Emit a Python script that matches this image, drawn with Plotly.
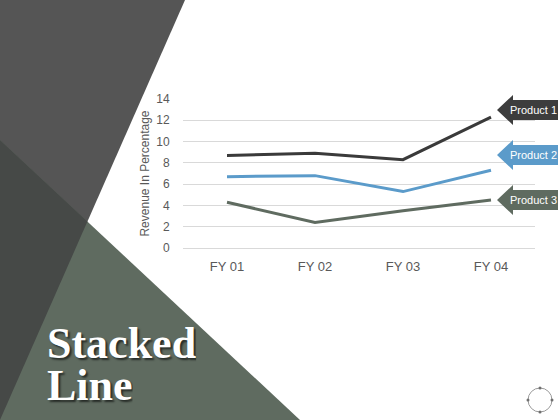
import plotly.graph_objects as go

W, H = 560, 420

categories = ["FY 01", "FY 02", "FY 03", "FY 04"]
product_1 = [8.7, 8.9, 8.3, 12.3]
product_2 = [6.7, 6.8, 5.3, 7.3]
product_3 = [4.3, 2.4, 3.5, 4.5]
names = ["Product 1", "Product 2", "Product 3"]
colors = ["#3a3a3a", "#5b9bca", "#5f6b60"]
y_ticks = [0, 2, 4, 6, 8, 10, 12, 14]


def px(x, y):
    """pixel -> paper fraction"""
    return x / W, 1 - y / H


def path(points):
    s = ""
    for i, (x, y) in enumerate(points):
        fx, fy = px(x, y)
        s += ("M" if i == 0 else "L") + f"{fx:.5f},{fy:.5f} "
    return s + "Z"


fig = go.Figure()
for name, vals, col in zip(names, [product_1, product_2, product_3], colors):
    fig.add_trace(go.Scatter(x=categories, y=vals, name=name, mode="lines",
                             line=dict(color=col, width=3)))

shapes = []
# background panels
shapes.append(dict(type="path", path=path([(0, 0), (185, 0), (0, 420)]),
                   fillcolor="#555555", line_width=0, layer="below"))
shapes.append(dict(type="path", path=path([(0, 140), (300, 420), (0, 420)]),
                   fillcolor="#5f6b60", line_width=0, layer="below"))
# overlap of the two panels
ya = 335 / (185 / 420 + 300 / 280)
xa = 185 * (1 - ya / 420)
shapes.append(dict(type="path", path=path([(0, 140), (xa, ya), (0, 420)]),
                   fillcolor="#464947", line_width=0, layer="below"))

# arrow callouts
annotations = []
for name, col, cy in zip(names, ["#3d3d3d", "#5b9bca", "#5f6b60"], [110, 155, 200]):
    shapes.append(dict(type="path", line_width=0, fillcolor=col, layer="above",
                       path=path([(497, cy), (513, cy - 15), (513, cy - 10),
                                  (558, cy - 10), (558, cy + 10), (513, cy + 10),
                                  (513, cy + 15)])))
    fx, fy = px(533, cy)
    annotations.append(dict(x=fx, y=fy, xref="paper", yref="paper", text=name,
                            showarrow=False, xanchor="center", yanchor="middle",
                            font=dict(family="Liberation Sans", size=11, color="white")))

# small circle ornament
r = 12
shapes.append(dict(type="circle", x0=(540 - r) / W, x1=(540 + r) / W,
                   y0=1 - (400 + r) / H, y1=1 - (400 - r) / H,
                   line=dict(color="#9a9a9a", width=1)))
for dx, dy in [(0, -r), (0, r), (-r, 0), (r, 0)]:
    shapes.append(dict(type="circle",
                       x0=(540 + dx - 1.5) / W, x1=(540 + dx + 1.5) / W,
                       y0=1 - (400 + dy + 1.5) / H, y1=1 - (400 + dy - 1.5) / H,
                       fillcolor="#707070", line_width=0))

for s in shapes:
    s.setdefault("xref", "paper")
    s.setdefault("yref", "paper")

# title with drop shadow
for word, ty in [("Stacked", 343), ("Line", 385)]:
    fx, fy = px(45, ty)
    annotations.append(dict(x=fx, y=fy, xref="paper", yref="paper", text=f"<b>{word}</b>",
                            showarrow=False, xanchor="left", yanchor="middle", height=38,
                            font=dict(family="Liberation Serif", size=44, color="white",
                                      shadow="2px 2px 2px rgba(0,0,0,0.6)")))

fig.update_layout(
    width=W, height=H, margin=dict(l=0, r=0, t=0, b=0),
    paper_bgcolor="white", plot_bgcolor="rgba(0,0,0,0)",
    showlegend=False, shapes=shapes, annotations=annotations,
    font=dict(family="Liberation Sans", color="#595959"),
    xaxis=dict(domain=[183 / W, 535 / W], range=[-0.5, 3.5], showgrid=False,
               showline=False, zeroline=False,
               ticks="outside", ticklen=6, tickcolor="rgba(0,0,0,0)",
               tickfont=dict(size=13, color="#595959"), automargin=False),
    yaxis=dict(domain=[1 - 248 / H, 1 - 99 / H], range=[0, 14], tickvals=y_ticks,
               showgrid=True, gridcolor="#d9d9d9", gridwidth=1, zeroline=True,
               zerolinecolor="#d9d9d9", zerolinewidth=1, showline=False,
               ticks="outside", ticklen=10, tickcolor="rgba(0,0,0,0)",
               tickfont=dict(size=12, color="#595959"), automargin=False,
               title=dict(text="Revenue In Percentage", font=dict(size=12, color="#595959"),
                          standoff=4)),
)

fig.write_html("out.html", config={"displayModeBar": False},
               post_script="document.body.style.margin='0';")
